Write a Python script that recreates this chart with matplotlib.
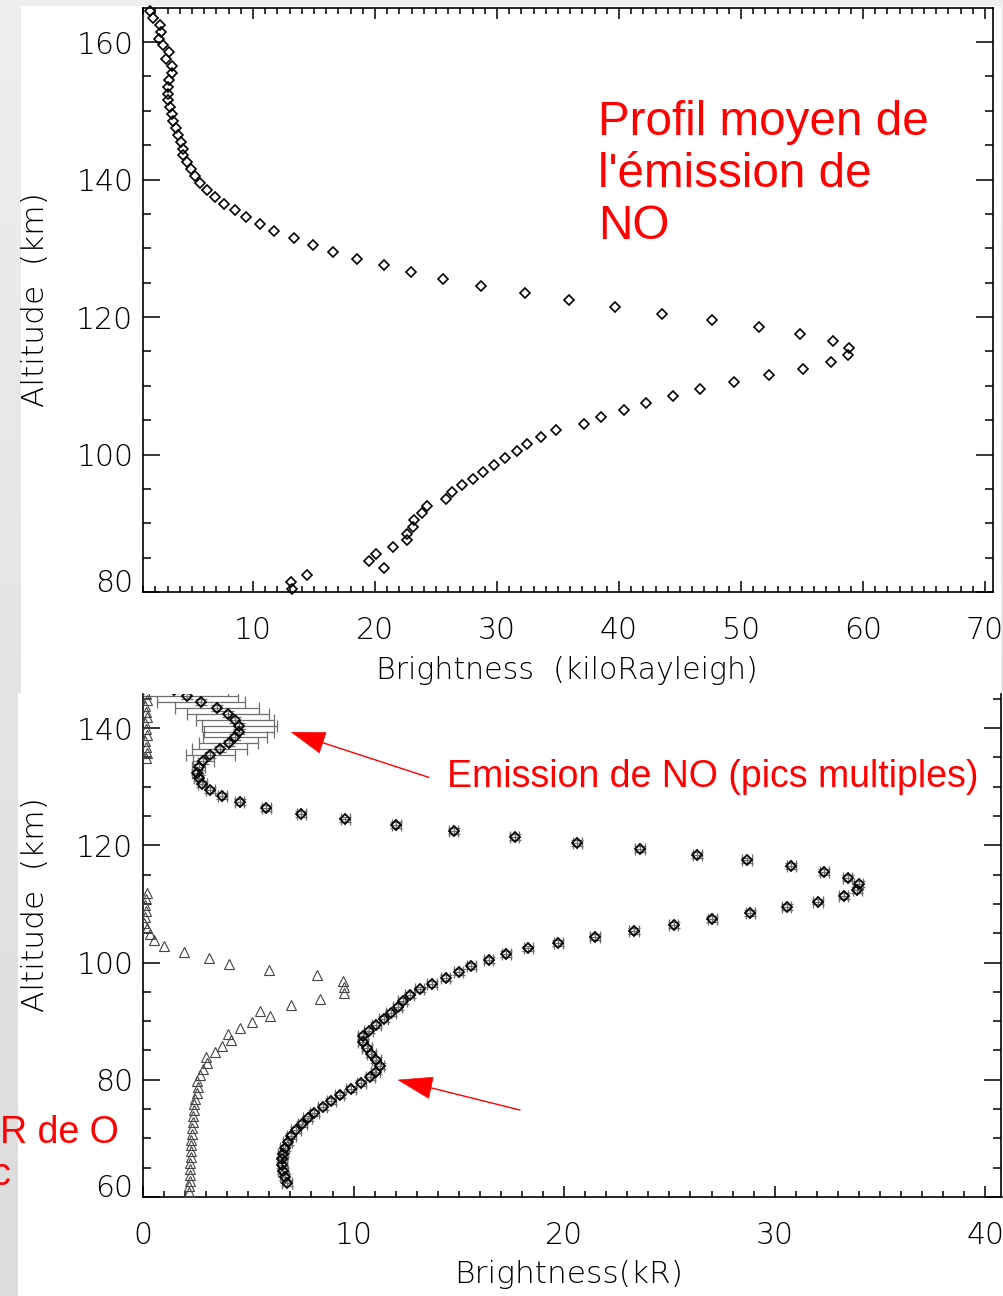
import numpy as np
import matplotlib.pyplot as plt
from matplotlib.patches import Rectangle, Polygon
from matplotlib.lines import Line2D
from matplotlib.ticker import MultipleLocator

W, H = 1004, 1296

# mean NO emission profile (top panel), altitude in km, brightness in kR
mean_alt = [164.5 - i for i in range(85)]
mean_br = [1.56, 1.78, 2.38, 2.43, 2.32, 2.60, 3.14, 2.87, 3.34, 3.34,
           3.14, 3.06, 3.01, 3.06, 3.20, 3.34, 3.47, 3.66, 3.88, 4.07,
           4.24, 4.29, 4.57, 4.89, 5.25, 5.66, 6.20, 6.89, 7.62, 8.52,
           9.43, 10.57, 11.72, 13.33, 14.94, 16.58, 18.55, 20.74, 22.95, 25.55,
           28.69, 32.30, 35.90, 39.67, 43.50, 47.60, 51.50, 54.84, 57.52, 58.88,
           58.80, 57.35, 55.11, 52.30, 49.43, 46.64, 44.45, 42.21, 40.41, 38.50,
           37.13, 34.84, 33.58, 32.43, 31.61, 30.66, 29.75, 28.83, 28.01, 27.11,
           26.29, 25.82, 24.24, 23.83, 23.20, 23.14, 22.65, 22.65, 21.45, 20.08,
           19.51, 20.74, 14.45, 13.09, 13.17]

# single NO profile with multiple peaks (bottom panel)
no_alt = [146.4 - i for i in range(85)]
no_br = [1.46, 2.10, 2.76, 3.52, 4.04, 4.39, 4.58, 4.55, 4.36, 4.07,
         3.65, 3.20, 2.86, 2.65, 2.57, 2.65, 2.81, 3.20, 3.76, 4.59,
         5.86, 7.52, 9.61, 12.03, 14.75, 17.65, 20.63, 23.60, 26.32, 28.68,
         30.78, 32.36, 33.46, 33.99, 33.93, 33.28, 32.06, 30.57, 28.85, 27.03,
         25.21, 23.32, 21.46, 19.72, 18.29, 17.26, 16.41, 15.60, 15.00, 14.37,
         13.73, 13.14, 12.66, 12.33, 12.09, 11.78, 11.43, 11.08, 10.72, 10.45,
         10.45, 10.64, 10.84, 11.08, 11.24, 11.05, 10.80, 10.36, 9.88, 9.34,
         8.95, 8.53, 8.14, 7.82, 7.56, 7.27, 7.05, 6.87, 6.73, 6.65,
         6.61, 6.61, 6.65, 6.72, 6.84]
no_err = [2.6, 2.4, 2.1, 2.0, 1.95, 1.85, 1.77, 1.66, 1.52, 1.40,
          1.30, 1.18, 0.5, 0.3] + [0.22] * 71

# O2 profile (triangles)
o2_alt = ([145.8 - i for i in range(12)] + [111.8 - i for i in range(52)])
o2_br = [0.15, 0.2, 0.1, 0.15, 0.2, 0.1, 0.15, 0.2, 0.1, 0.15, 0.2, 0.15,
         0.2, 0.15, 0.1, 0.12, 0.1, 0.07, 0.2, 0.32, 0.51, 0.99,
         1.94, 3.12, 4.07, 6.00, 8.27, 9.50, 9.56, 9.56, 8.42, 7.03,
         5.54, 6.02, 5.18, 4.63, 4.02, 4.20, 3.76, 3.44, 2.97, 3.05,
         2.86, 2.73, 2.57, 2.60, 2.57, 2.49, 2.44, 2.41, 2.38, 2.36,
         2.34, 2.34, 2.30, 2.30, 2.29, 2.29, 2.25, 2.25, 2.22, 2.22,
         2.17, 2.17]

top_xticks = [10, 20, 30, 40, 50, 60, 70]
top_yticks = [80, 100, 120, 140, 160]
bot_xticks = [0, 10, 20, 30, 40]
bot_yticks = [60, 80, 100, 120, 140]

plt.rcParams['font.family'] = ['DejaVu Sans']
plt.rcParams['font.weight'] = 'light'
plt.rcParams['axes.labelweight'] = 'light'
plt.rcParams['font.size'] = 21


def fx(x):
    return x / W


def fy(y):
    return 1 - y / H


fig = plt.figure(figsize=(W / 100, H / 100), dpi=100)

# slide background
bg = fig.add_axes([0, 0, 1, 1], zorder=-10)
grad = np.linspace(0.93, 0.86, 256).reshape(-1, 1)
bg.imshow(grad, cmap='gray', vmin=0, vmax=1, aspect='auto', extent=[0, 1, 0, 1])
bg.add_patch(Rectangle((fx(21), fy(693)), fx(980), 687 / H, color='white', lw=0))
bg.add_patch(Rectangle((fx(18), 0), fx(986), fy(693), color='white', lw=0))
bg.set_xlim(0, 1)
bg.set_ylim(0, 1)
bg.axis('off')


def style_axes(ax):
    ax.tick_params(which='both', direction='in', top=True, right=True,
                   width=1.1, labelsize=21.5, colors='black')
    ax.tick_params(axis='x', which='major', length=8, pad=17)
    ax.tick_params(axis='x', which='minor', length=4.3)
    ax.tick_params(axis='y', which='major', length=12.2, pad=7)
    ax.tick_params(axis='y', which='minor', length=5.8)
    for s in ax.spines.values():
        s.set_linewidth(1.2)


# top panel: mean profile
ax1 = fig.add_axes([fx(143), fy(592), (993 - 143) / W, (592 - 8) / H])
ax1.plot(mean_br, mean_alt, ls='none', marker='D', ms=5.0, mfc='none',
         mec='black', mew=1.2, clip_on=False)
ax1.set_xlim(0.98, 70.66)
ax1.set_ylim(80, 164.95)
ax1.set_xticks(top_xticks)
ax1.set_yticks(top_yticks)
ax1.xaxis.set_minor_locator(MultipleLocator(1))
ax1.yaxis.set_minor_locator(MultipleLocator(5))
style_axes(ax1)
ax1.yaxis.get_major_ticks()[0].label1.set_verticalalignment('baseline')
ax1.set_xlabel('Brightness  (kiloRayleigh)', fontsize=21.6, weight='light')
ax1.set_ylabel('Altitude  (km)', fontsize=22.5, weight='light')
ax1.xaxis.set_label_coords((567 - 143) / 850, (592 - 656) / 584)
ax1.yaxis.set_label_coords((50 - 143) / 850, 0.5)

# bottom panel: profile with multiple peaks
ax2 = fig.add_axes([fx(143), fy(1197), (1001.5 - 143) / W, (1197 - 694) / H])
ax2.errorbar(no_br, no_alt, xerr=no_err, yerr=0.5, fmt='none', ecolor='#6e6e6e',
             elinewidth=0.9, capsize=4.5, capthick=0.9, zorder=2)
ax2.plot(no_br, no_alt, ls='none', marker='D', ms=5.0, mfc='none',
         mec='black', mew=1.3, zorder=3)
ax2.plot(o2_br, o2_alt, ls='none', marker='^', ms=7, mfc='none',
         mec='#444444', mew=0.8, zorder=3)
ax2.set_xlim(0, 40.77)
ax2.set_ylim(60, 145.8)
ax2.set_xticks(bot_xticks)
ax2.set_yticks(bot_yticks)
ax2.xaxis.set_minor_locator(MultipleLocator(1))
ax2.yaxis.set_minor_locator(MultipleLocator(5))
style_axes(ax2)
ax2.tick_params(top=False, which='both')
ax2.spines['top'].set_visible(False)
ax2.yaxis.get_major_ticks()[0].label1.set_verticalalignment('baseline')
ax2.set_xlabel('Brightness(kR)', fontsize=22.5, weight='light')
ax2.set_ylabel('Altitude  (km)', fontsize=22.5, weight='light')
ax2.xaxis.set_label_coords((569 - 143) / 858.5, (1197 - 1260) / 503)
ax2.yaxis.set_label_coords((50 - 143) / 858.5, (1197 - 905) / 503)

# red annotations
red = '#ff0000'
fig.text(fx(598), fy(100), "Profil moyen de\nl'émission de\nNO", color=red,
         fontsize=34.3, family='Liberation Sans', weight='normal',
         va='top', ha='left', linespacing=1.2)
fig.text(fx(447), fy(777), 'Emission de NO (pics multiples)', color=red,
         fontsize=27, family='Liberation Sans', weight='normal',
         va='center', ha='left')
fig.text(fx(0), fy(1133), 'R de O', color=red, fontsize=27,
         family='Liberation Sans', weight='normal', va='center', ha='left')
fig.text(fx(-9), fy(1175), 'c', color=red, fontsize=27,
         family='Liberation Sans', weight='normal', va='center', ha='left')


def arrow(tip, b1, b2, tail):
    base = ((b1[0] + b2[0]) / 2, (b1[1] + b2[1]) / 2)
    fig.add_artist(Line2D([fx(base[0]), fx(tail[0])], [fy(base[1]), fy(tail[1])],
                          color=red, lw=1.0))
    fig.add_artist(Polygon([(fx(tip[0]), fy(tip[1])), (fx(b1[0]), fy(b1[1])),
                            (fx(b2[0]), fy(b2[1]))], closed=True,
                           facecolor=red, edgecolor=red, lw=0.5))


arrow((291.7, 732.3), (326, 732.7), (319.3, 752.7), (428.6, 777.3))
arrow((398.4, 1080), (433.1, 1077.3), (428.6, 1098.3), (519.8, 1110))

fig.savefig('out.png', dpi=100)
